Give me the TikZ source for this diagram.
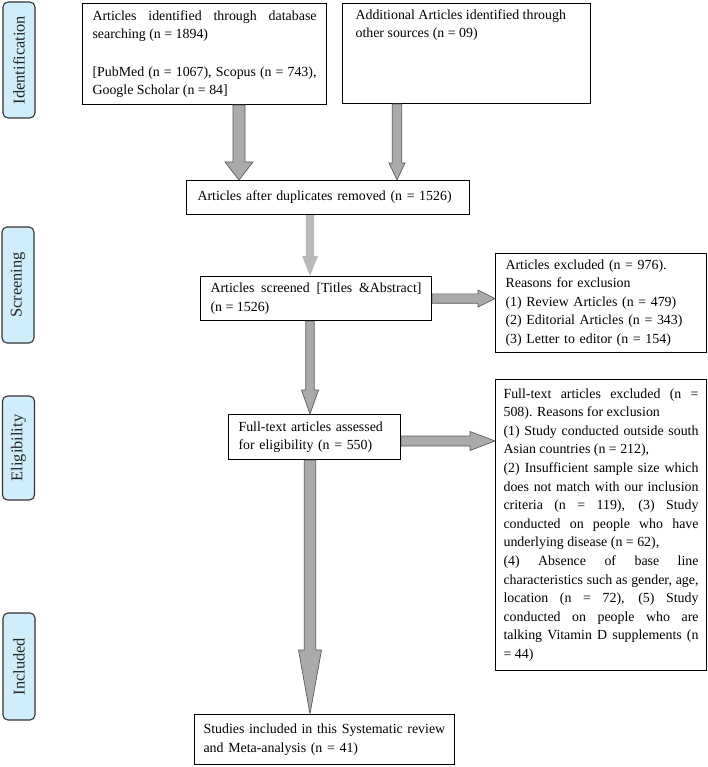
\documentclass[tikz,border=0pt]{standalone}
\usepackage{fontspec}
\setmainfont{Liberation Serif}
\usetikzlibrary{calc}
\definecolor{stagebg}{RGB}{208,237,252}
\definecolor{arrowbg}{RGB}{170,170,170}
\definecolor{arrowrim}{RGB}{90,90,90}
\setlength{\parindent}{0pt}
\tolerance=9999
\hyphenpenalty=10000
\begin{document}
\begin{tikzpicture}[x=1pt,y=-1pt,
  box/.style={draw,line width=1.1pt,anchor=north west,inner ysep=3pt,font=\fontsize{13.9}{18.6}\selectfont},
  stage/.style={draw=black!80,line width=1.1pt,rounded corners=5pt,fill=stagebg,rotate=90,minimum height=32pt,inner sep=0pt,text=black!85,font=\fontsize{16.4}{18}\selectfont},
  barrow/.style n args={3}{draw=arrowrim,fill=arrowbg,line width=0.7pt,to path={
    ($(\tikztotarget)!#3!(\tikztostart)$) coordinate (hb)
    ($(\tikztostart)!#1!90:(\tikztotarget)$) -- ($(hb)!#1!90:(\tikztotarget)$)
    -- ($(hb)!#2!90:(\tikztotarget)$) -- (\tikztotarget) -- ($(hb)!#2!-90:(\tikztotarget)$)
    -- ($(hb)!#1!-90:(\tikztotarget)$) -- ($(\tikztostart)!#1!-90:(\tikztotarget)$) -- cycle}}]
\useasboundingbox (0,0) rectangle (708,767);
\node[stage,minimum width=116pt] (lbl1) at (19,60) {Identification};
\node[stage,minimum width=116pt] (lbl2) at (18,285) {Screening};
\node[stage,minimum width=104pt] (lbl3) at (18.5,448) {Eligibility};
\node[stage,minimum width=107pt] (lbl4) at (19,666.5) {Included};
\node[box,minimum width=244pt,minimum height=101pt,inner xsep=10pt,text width=224pt,align=justify] (db) at (82,3)
  {Articles identified through database\linebreak searching (n = 1894)\par\vspace{18.6pt}[PubMed (n = 1067), Scopus (n = 743),\linebreak Google Scholar (n = 84]};
\node[box,minimum width=248pt,minimum height=100pt,inner xsep=13pt,inner ysep=6pt] (other) at (342,3)
  {\parbox[t][88pt][t]{222pt}{Additional Articles identified through\\other sources (n = 09)}};
\node[box,minimum width=283pt,minimum height=34pt,inner xsep=11pt,text width=261pt,align=left] (dedup) at (186,180)
  {Articles after duplicates removed (n = 1526)};
\node[box,minimum width=231pt,minimum height=44pt,inner xsep=10pt,text width=211pt,align=justify] (screened) at (200,276)
  {Articles screened [Titles \&Abstract]\linebreak (n = 1526)};
\node[box,minimum width=172pt,minimum height=45pt,inner xsep=10pt,text width=152pt,align=left] (full) at (228,414)
  {Full-text articles assessed\\for eligibility (n = 550)};
\node[box,minimum width=260pt,minimum height=50pt,inner xsep=9pt,text width=242pt,align=left] (final) at (194,714)
  {Studies included in this Systematic review\\and Meta-analysis (n = 41)};
\node[box,minimum width=211pt,minimum height=99pt,inner xsep=10pt,text width=191pt,align=left] (excl) at (495,253)
  {Articles excluded (n = 976).\\Reasons for exclusion\\(1) Review Articles (n = 479)\\(2) Editorial Articles (n = 343)\\(3) Letter to editor (n = 154)};
\node[box,minimum width=211pt,minimum height=291pt,inner xsep=8pt,text width=195pt,align=justify] (ftexcl) at (495,379)
  {Full-text articles excluded (n =\linebreak 508). Reasons for exclusion\par
   (1) Study conducted outside south\linebreak Asian countries (n = 212),\par
   (2) Insufficient sample size which\linebreak does not match with our inclusion\linebreak criteria (n = 119), (3) Study\linebreak conducted on people who have\linebreak underlying disease (n = 62),\par
   (4) Absence of base line\linebreak characteristics such as gender, age,\linebreak location (n = 72), (5) Study\linebreak conducted on people who are\linebreak talking Vitamin D supplements (n\linebreak = 44)};
\coordinate (c1) at (239,0); \coordinate (c2) at (397,0); \coordinate (c3) at (310,0);
\coordinate (r2) at (0,441);
\draw[barrow={6pt}{14pt}{18pt}] (db.south -| c1) to (dedup.north -| c1);
\draw[barrow={4.7pt}{8pt}{17pt}] (other.south -| c2) to (dedup.north -| c2);
\draw[barrow={4.2pt}{8pt}{20pt},draw=none,fill=gray!55] (dedup.south -| c3) to (screened.north -| c3);
\draw[barrow={4.2pt}{8.5pt}{24pt}] (screened.south -| c3) to (full.north -| c3);
\draw[barrow={5.7pt}{11.5pt}{64pt}] (full.south -| c3) to (final.north -| c3);
\draw[barrow={4.7pt}{8.5pt}{17pt}] (screened.east) to (excl.west |- screened.east);
\draw[barrow={5pt}{9.5pt}{25pt}] (full.east |- r2) to (ftexcl.west |- r2);
\end{tikzpicture}
\end{document}
